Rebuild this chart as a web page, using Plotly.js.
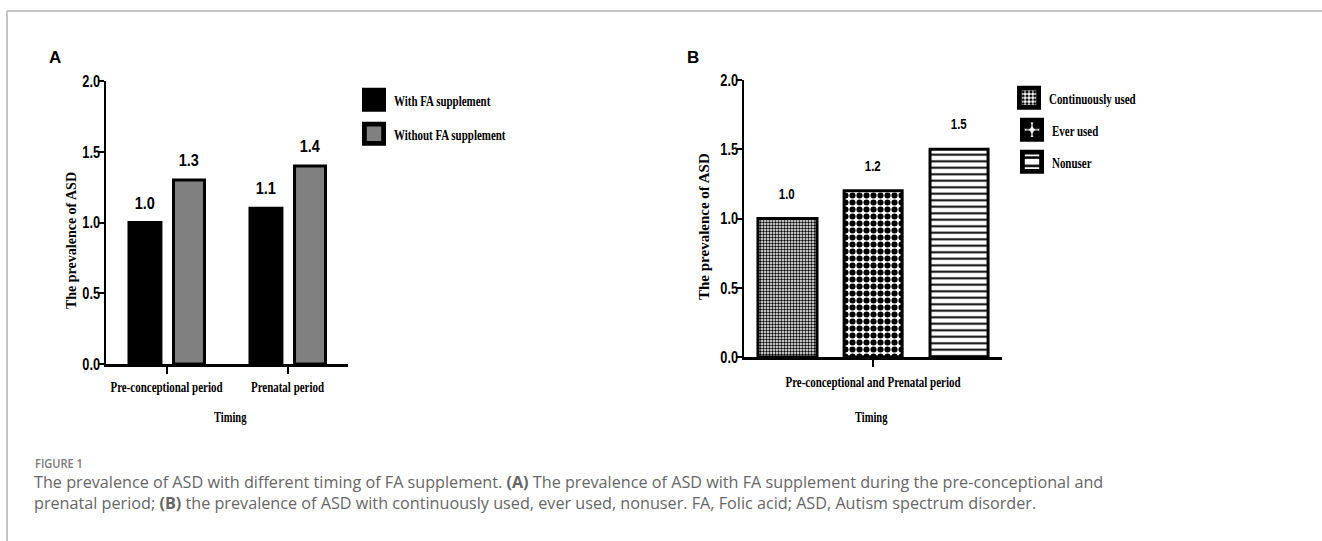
<!DOCTYPE html>
<html>
<head>
<meta charset="utf-8">
<script src="https://cdn.plot.ly/plotly-3.0.1.min.js"></script>
<style>
html,body{margin:0;padding:0;background:#fff;}
#chart{width:1322px;height:541px;}
/* the source figure is horizontally condensed: condense the legend labels the same way */
#chart .infolayer g[class^="legend"] text{transform-box:fill-box;transform-origin:0 50%;transform:scaleX(0.73);}
</style>
</head>
<body>
<div id="chart"></div>
<script>
// ---- data ----
const periodsA = ['Pre-conceptional period', 'Prenatal period'];
const withFA = [1.0, 1.1];
const withoutFA = [1.3, 1.4];
const seriesA = ['With FA supplement', 'Without FA supplement'];

const periodB = ['Pre-conceptional and Prenatal period'];
const seriesB = ['Continuously used', 'Ever used', 'Nonuser'];
const valuesB = [[1.0], [1.2], [1.5]];

const yTicks = [0, 0.5, 1.0, 1.5, 2.0];
const yTickText = ['0.0', '0.5', '1.0', '1.5', '2.0'];
const xTitle = 'Timing';
const yTitle = 'The prevalence of ASD';

// ---- styling ----
const W = 1322, H = 541;
const px = v => v / W, py = v => 1 - v / H;
const serif = 'Liberation Serif, Times New Roman, serif';
const sans = 'Liberation Sans, Arial, sans-serif';

const offA = [-0.31, 0.058], widA = [0.264, 0.256];
const offB = [-0.446, -0.112, 0.221], widB = [0.229, 0.225, 0.225];
const patterns = [
  {shape: '.', fgcolor: '#000', size: 3, solidity: 0.5},
  {shape: '.', fgcolor: '#000', size: 7, solidity: 0.6},
  {shape: '-', fgcolor: '#000', size: 6.5, solidity: 0.3}
];

const traces = [];
[withFA, withoutFA].forEach((vals, i) => {
  traces.push({
    type: 'bar', x: periodsA, y: vals, name: seriesA[i],
    xaxis: 'x', yaxis: 'y',
    offset: offA[i], width: widA[i],
    marker: {color: i === 0 ? '#000000' : '#808080', line: {color: '#000', width: 3}},
    legend: i === 0 ? 'legend' : 'legend2',
    hoverinfo: 'x+y'
  });
});
valuesB.forEach((vals, i) => {
  traces.push({
    type: 'bar', x: periodB, y: vals, name: seriesB[i],
    xaxis: 'x2', yaxis: 'y2',
    offset: offB[i], width: widB[i],
    marker: {color: '#ffffff', line: {color: '#000', width: 3}, pattern: patterns[i]},
    legend: 'legend' + (i + 3),
    hoverinfo: 'x+y'
  });
});

// annotations + horizontal squeeze factor for each (the source figure is horizontally compressed)
const annotations = [];
const squeeze = [];
function addAnn(a, k) { annotations.push(a); squeeze.push(k); }

[withFA, withoutFA].forEach((vals, i) => {
  vals.forEach((v, j) => {
    addAnn({xref: 'x', yref: 'y', x: j + offA[i] + widA[i] / 2, y: v, text: '<b>' + v.toFixed(1) + '</b>',
      showarrow: false, xanchor: 'center', yanchor: 'bottom', yshift: 8, font: {family: sans, size: 17, color: '#000'}}, 0.85);
  });
});
valuesB.forEach((vals, i) => {
  vals.forEach((v, j) => {
    addAnn({xref: 'x2', yref: 'y2', x: j + offB[i] + widB[i] / 2, y: v, text: '<b>' + v.toFixed(1) + '</b>',
      showarrow: false, xanchor: 'center', yanchor: 'bottom', yshift: 15, font: {family: sans, size: 14, color: '#000'}}, 0.82);
  });
});
addAnn({xref: 'paper', yref: 'paper', x: px(55), y: py(57), xanchor: 'center', yanchor: 'middle', text: '<b>A</b>', showarrow: false,
  font: {family: sans, size: 17, color: '#000'}}, 1);
addAnn({xref: 'paper', yref: 'paper', x: px(693), y: py(57), xanchor: 'center', yanchor: 'middle', text: '<b>B</b>', showarrow: false,
  font: {family: sans, size: 17, color: '#000'}}, 1);
addAnn({xref: 'paper', yref: 'paper', x: px(230), y: py(417), xanchor: 'center', yanchor: 'middle', text: '<b>' + xTitle + '</b>', showarrow: false,
  font: {family: serif, size: 15, color: '#000'}}, 0.7);
addAnn({xref: 'paper', yref: 'paper', x: px(871), y: py(417), xanchor: 'center', yanchor: 'middle', text: '<b>' + xTitle + '</b>', showarrow: false,
  font: {family: serif, size: 15, color: '#000'}}, 0.7);
addAnn({xref: 'paper', yref: 'paper', x: px(71), y: py(241), xanchor: 'center', yanchor: 'middle', text: '<b>' + yTitle + '</b>', showarrow: false, textangle: -90,
  font: {family: serif, size: 14, color: '#000'}}, 1);
addAnn({xref: 'paper', yref: 'paper', x: px(704), y: py(227), xanchor: 'center', yanchor: 'middle', text: '<b>' + yTitle + '</b>', showarrow: false, textangle: -90,
  font: {family: serif, size: 15, color: '#000'}}, 1);
// caption
const capFont = 'Open Sans, Lato, sans-serif';
addAnn({xref: 'paper', yref: 'paper', x: px(33), y: py(463), xanchor: 'left', yanchor: 'middle', text: 'FIGURE 1', showarrow: false,
  font: {family: capFont, size: 13, color: '#7a7a7a', weight: 600}}, 0.85);
addAnn({xref: 'paper', yref: 'paper', x: px(32), y: py(482), xanchor: 'left', yanchor: 'middle', showarrow: false,
  text: 'The prevalence of ASD with different timing of FA supplement. <b>(A)</b> The prevalence of ASD with FA supplement during the pre-conceptional and',
  font: {family: capFont, size: 16.2, color: '#666666'}}, 1);
addAnn({xref: 'paper', yref: 'paper', x: px(32), y: py(503), xanchor: 'left', yanchor: 'middle', showarrow: false,
  text: 'prenatal period; <b>(B)</b> the prevalence of ASD with continuously used, ever used, nonuser. FA, Folic acid; ASD, Autism spectrum disorder.',
  font: {family: capFont, size: 16.2, color: '#666666'}}, 1);

const yaxisBase = {
  range: [0, 2], tickvals: yTicks, ticktext: yTickText, showgrid: false, zeroline: false,
  showline: true, linecolor: '#000', linewidth: 2.5, ticks: 'outside', ticklen: 6, tickwidth: 2, tickcolor: '#000',
  ticklabelstandoff: -6,
  tickfont: {family: sans, size: 17, color: '#000', weight: 'bold'}, fixedrange: true
};
const xaxisBase = {
  type: 'category', showgrid: false, zeroline: false, showline: true, linecolor: '#000', linewidth: 3,
  ticks: 'outside', ticklen: 7, tickwidth: 2, tickcolor: '#000', tickangle: 0,
  tickfont: {family: serif, size: 15, color: '#000', weight: 'bold'}, fixedrange: true
};

const legendBase = (x, y) => ({x: px(x), y: py(y), xanchor: 'left', yanchor: 'middle', bgcolor: 'rgba(0,0,0,0)',
  font: {family: serif, size: 15, color: '#000', weight: 'bold'}, borderwidth: 0});

const layout = {
  width: W, height: H, margin: {l: 0, r: 0, t: 0, b: 0},
  paper_bgcolor: '#fff', plot_bgcolor: 'rgba(0,0,0,0)',
  showlegend: true, barmode: 'group',
  xaxis: Object.assign({}, xaxisBase, {domain: [px(106), px(348)], range: [-0.5, 1.5], anchor: 'y', ticklabelstandoff: 0}),
  yaxis: Object.assign({}, yaxisBase, {domain: [1 - 364 / H, 1 - 81 / H], anchor: 'x'}),
  xaxis2: Object.assign({}, xaxisBase, {domain: [px(744), px(1002)], range: [-0.5, 0.5], anchor: 'y2', ticklabelstandoff: 2}),
  yaxis2: Object.assign({}, yaxisBase, {domain: [1 - 357 / H, 1 - 80 / H], anchor: 'x2'}),
  legend: legendBase(354, 100),
  legend2: legendBase(354, 134),
  legend3: legendBase(1009, 98),
  legend4: legendBase(1012, 130),
  legend5: legendBase(1012, 162),
  annotations: annotations,
  shapes: [
    {type: 'line', xref: 'paper', yref: 'paper', x0: px(7), x1: 1, y0: py(11), y1: py(11), line: {color: '#c4c4c4', width: 2}},
    {type: 'line', xref: 'paper', yref: 'paper', x0: px(7), x1: px(7), y0: py(11), y1: 0, line: {color: '#c4c4c4', width: 2}}
  ]
};

// Horizontally condense a text element while keeping its anchor point fixed.
function squeezeText(el, k, anchorOverride) {
  if (!el || k === 1) return;
  if (el.hasAttribute('data-orig-tr')) {
    const o = el.getAttribute('data-orig-tr');
    if (o) el.setAttribute('transform', o); else el.removeAttribute('transform');
  } else {
    el.setAttribute('data-orig-tr', el.getAttribute('transform') || '');
  }
  el.removeAttribute('textLength');
  el.removeAttribute('lengthAdjust');
  const b0 = el.getBBox();
  const len = el.getComputedTextLength();
  if (!(len > 0)) return;
  el.setAttribute('textLength', (len * k).toFixed(2));
  el.setAttribute('lengthAdjust', 'spacingAndGlyphs');
  const b1 = el.getBBox();
  const anchor = anchorOverride || el.getAttribute('text-anchor') || 'start';
  const ref = b => anchor === 'end' ? b.x + b.width : anchor === 'middle' ? b.x + b.width / 2 : b.x;
  let dx = ref(b0) - ref(b1);
  if (anchorOverride === 'start') dx = -(len - len * k) / 2 + (ref(b0) - ref(b1)) * 0; // keep left edge of a centred text
  if (Math.abs(dx) > 0.3) {
    const o = el.getAttribute('data-orig-tr');
    el.setAttribute('transform', (o ? o + ' ' : '') + 'translate(' + dx.toFixed(2) + ',0)');
  }
}

function finish(gd) {
  try {
    gd.querySelectorAll('.ytick text, .y2tick text').forEach(t => squeezeText(t, 0.75));
    gd.querySelectorAll('.xtick text, .x2tick text').forEach(t => squeezeText(t, 0.73));
    gd.querySelectorAll('g.annotation').forEach(g => {
      const i = +g.getAttribute('data-index');
      const a = annotations[i];
      squeezeText(g.querySelector('text.annotation-text'), squeeze[i], a && a.xanchor === 'left' ? 'start' : undefined);
    });
    // enlarge legend swatches to match the source
    gd.querySelectorAll('.legendpoints path').forEach(p => {
      if (!p.hasAttribute('data-orig-tr')) p.setAttribute('data-orig-tr', p.getAttribute('transform') || '');
      p.setAttribute('transform', p.getAttribute('data-orig-tr') + ' scale(1.6)');
    });
  } catch (e) { console.error(e); }
}

Plotly.newPlot('chart', traces, layout, {displayModeBar: false, staticPlot: true}).then(gd => {
  finish(gd);
  gd.on('plotly_afterplot', () => finish(gd));
  requestAnimationFrame(() => finish(gd));
  setTimeout(() => finish(gd), 60);
});
</script>
</body>
</html>
